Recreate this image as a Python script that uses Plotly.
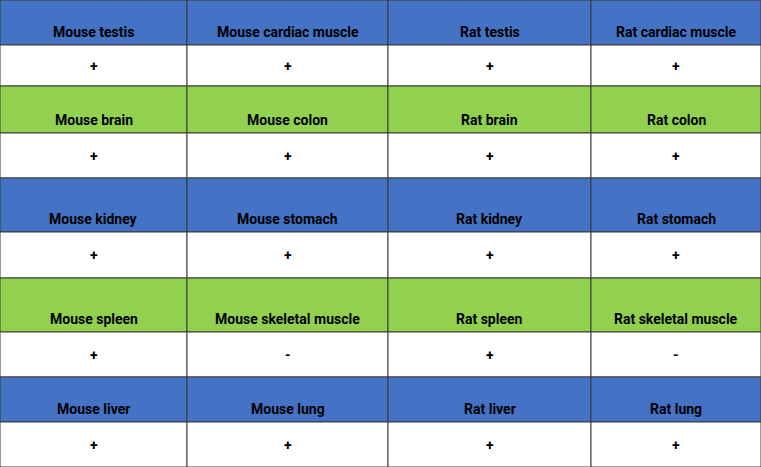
import plotly.graph_objects as go

headers = [
    ["Mouse testis", "Mouse cardiac muscle", "Rat testis", "Rat cardiac muscle"],
    ["Mouse brain", "Mouse colon", "Rat brain", "Rat colon"],
    ["Mouse kidney", "Mouse stomach", "Rat kidney", "Rat stomach"],
    ["Mouse spleen", "Mouse skeletal muscle", "Rat spleen", "Rat skeletal muscle"],
    ["Mouse liver", "Mouse lung", "Rat liver", "Rat lung"],
]
values = [
    ["+", "+", "+", "+"],
    ["+", "+", "+", "+"],
    ["+", "+", "+", "+"],
    ["+", "-", "+", "-"],
    ["+", "+", "+", "+"],
]
header_colors = ["#4472C4", "#92D050", "#4472C4", "#92D050", "#4472C4"]

col_edges = [0, 187, 388, 591, 761]
row_edges = [(0, 45, 86), (86, 133, 178), (178, 232, 278), (278, 332, 377), (377, 422, 467)]

shapes, annots = [], []
for r, (t, m, b) in enumerate(row_edges):
    for c in range(4):
        x0, x1 = col_edges[c], col_edges[c + 1]
        shapes.append(dict(type="rect", x0=x0, x1=x1, y0=t, y1=m, fillcolor=header_colors[r],
                           line=dict(color="#3a3a3a", width=1), layer="below"))
        shapes.append(dict(type="rect", x0=x0, x1=x1, y0=m, y1=b, fillcolor="white",
                           line=dict(color="#3a3a3a", width=1), layer="below"))
        annots.append(dict(x=(x0 + x1) / 2, y=m - 13, text="<b>%s</b>" % headers[r][c], showarrow=False,
                           font=dict(family="Roboto", size=14, color="black")))
        annots.append(dict(x=(x0 + x1) / 2, y=(m + b) / 2, text="<b>%s</b>" % values[r][c], showarrow=False,
                           font=dict(family="Roboto", size=14, color="black")))

fig = go.Figure()
fig.update_layout(width=761, height=467, margin=dict(l=0, r=0, t=0, b=0),
                  paper_bgcolor="white", plot_bgcolor="white", shapes=shapes, annotations=annots,
                  xaxis=dict(range=[0, 761], visible=False, fixedrange=True),
                  yaxis=dict(range=[467, 0], visible=False, fixedrange=True), showlegend=False)
fig.write_html("out.html", config={"displayModeBar": False},
               post_script="document.body.style.margin='0';document.body.style.overflow='hidden';")
